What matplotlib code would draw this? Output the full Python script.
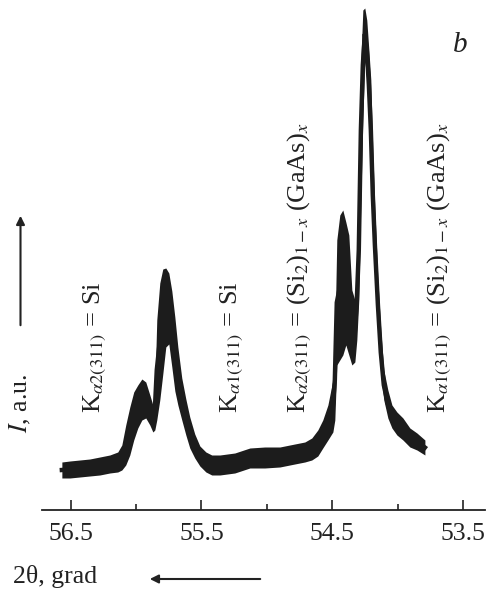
import matplotlib
matplotlib.use("Agg")
import matplotlib.pyplot as plt
from matplotlib.ticker import FixedLocator

plt.rcParams['font.family'] = ['Liberation Serif', 'DejaVu Serif']
plt.rcParams['mathtext.fontset'] = 'stix'

# ---- data (2theta in degrees, intensity in a.u.) ----
two_theta = [56.566, 56.505, 56.429, 56.353, 56.276, 56.200, 56.139, 56.108, 56.078,
             56.047, 56.017, 55.986, 55.955, 55.925, 55.894, 55.871, 55.856, 55.841,
             55.818, 55.795, 55.772, 55.749, 55.726, 55.703, 55.680, 55.650, 55.619,
             55.589, 55.551, 55.512, 55.466, 55.421, 55.359, 55.245, 55.130, 55.016,
             54.901, 54.787, 54.710, 54.657, 54.611, 54.573, 54.534, 54.496, 54.481,
             54.466, 54.443, 54.420, 54.397, 54.374, 54.351, 54.328, 54.313, 54.298,
             54.282, 54.267, 54.252, 54.237, 54.221, 54.206, 54.191, 54.175, 54.152,
             54.130, 54.107, 54.076, 54.045, 54.007, 53.961, 53.908, 53.854, 53.793]
intensity_hi = [47, 48, 49, 50, 52, 54, 57, 64, 84,
                102, 117, 124, 130, 127, 114, 104, 119, 189,
                226, 240, 241, 236, 218, 192, 162, 131, 110,
                92, 75, 63, 57, 54, 54, 56, 61, 62,
                62, 65, 67, 71, 79, 89, 104, 129, 169,
                269, 294, 299, 287, 274, 219, 209, 249, 309,
                449, 499, 501, 489, 459, 429, 359, 299, 229,
                179, 139, 119, 104, 97, 91, 81, 76, 69]
intensity_lo = [31, 31, 32, 33, 34, 36, 37, 39, 44,
                54, 69, 81, 89, 91, 84, 77, 79, 89,
                109, 135, 162, 165, 142, 118, 104, 89, 74,
                61, 51, 43, 37, 34, 34, 36, 41, 41,
                42, 45, 47, 49, 53, 61, 69, 77, 89,
                144, 149, 154, 164, 154, 144, 147, 169, 209,
                309, 389, 449, 429, 389, 329, 269, 229, 179,
                134, 109, 91, 81, 74, 69, 62, 59, 54]

major_ticks = [56.5, 55.5, 54.5, 53.5]
minor_ticks = [56.0, 55.0, 54.0]
tick_labels = ['56.5', '55.5', '54.5', '53.5']

labels = [r'K$_{\alpha 2(311)}$ = Si',
          r'K$_{\alpha 1(311)}$ = Si',
          r'K$_{\alpha 2(311)}$ = (Si$_2$)$_{1-x}$ (GaAs)$_x$',
          r'K$_{\alpha 1(311)}$ = (Si$_2$)$_{1-x}$ (GaAs)$_x$']

W, H = 489, 590
fig = plt.figure(figsize=(W / 100, H / 100), dpi=100)
ax = fig.add_axes([41.7 / W, 80 / H, (485 - 41.7) / W, 1 - 80 / H])

color = '#1c1c1c'
ax.fill_between(two_theta, intensity_lo, intensity_hi, color=color, lw=0)
mid = [(a + b) / 2 for a, b in zip(intensity_hi, intensity_lo)]
ax.plot(two_theta, mid, color=color, lw=3.2, solid_joinstyle='miter')

ax.set_xlim(56.72, 53.334)
ax.set_ylim(-1, 509)

for s in ['top', 'left', 'right']:
    ax.spines[s].set_visible(False)
ax.spines['bottom'].set_linewidth(1.3)
ax.spines['bottom'].set_color('#222222')

ax.xaxis.set_major_locator(FixedLocator(major_ticks))
ax.xaxis.set_minor_locator(FixedLocator(minor_ticks))
ax.set_xticklabels(tick_labels)
ax.tick_params(axis='x', which='major', direction='in', length=7.5, width=1.2,
               pad=9, labelsize=18.5, colors='#222222')
ax.tick_params(axis='x', which='minor', direction='in', length=4.5, width=1.2,
               colors='#222222')
ax.set_yticks([])
ax.patch.set_alpha(0)


def fx(px):
    return px / W


def fy(py):
    return 1 - py / H


# peak annotations (rotated)
ann_x = [82, 219, 286, 426]
for x, s in zip(ann_x, labels):
    fig.text(fx(x), fy(413), s, rotation=90, ha='left', va='bottom',
             fontsize=19, color='#222222')

# panel letter
fig.text(fx(460), fy(45), 'b', fontsize=21, style='italic', ha='center',
         va='center', color='#222222')

# y label with arrow
fig.text(fx(20.5), fy(433), r'$I$, a.u.', rotation=90, ha='center', va='bottom',
         fontsize=18.5, color='#222222')
fig.add_artist(matplotlib.patches.FancyArrowPatch(
    (fx(20.5), fy(328)), (fx(20.5), fy(213)), transform=fig.transFigure,
    arrowstyle='-|>,head_length=5,head_width=2.5', lw=1.5, color='#222222'))

# x label with arrow
fig.text(fx(13), fy(577), r'2θ, grad', ha='left', va='center',
         fontsize=18.5, color='#222222')
fig.add_artist(matplotlib.patches.FancyArrowPatch(
    (fx(263), fy(579)), (fx(147), fy(579)), transform=fig.transFigure,
    arrowstyle='-|>,head_length=5,head_width=2.5', lw=1.5, color='#222222'))

fig.savefig('out.png', dpi=100)
